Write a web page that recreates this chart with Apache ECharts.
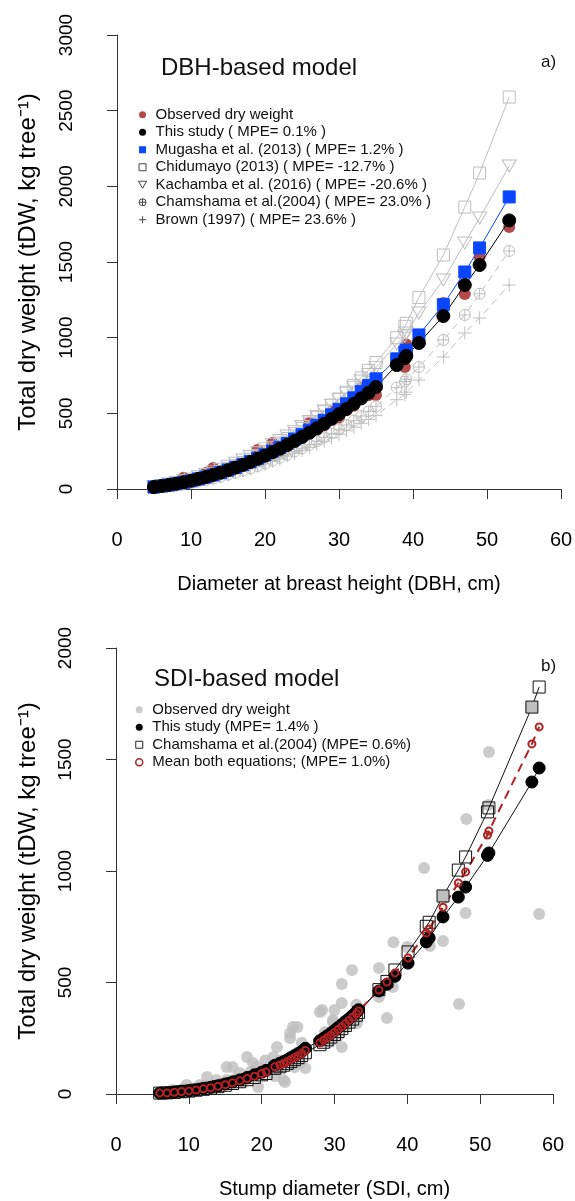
<!DOCTYPE html>
<html>
<head>
<meta charset="utf-8">
<title>Total dry weight models</title>
<script src="https://cdn.jsdelivr.net/npm/echarts@6.0.0/dist/echarts.min.js"></script>
<style>
  html, body { margin: 0; padding: 0; background: #fff; }
  #chart { width: 575px; height: 1201px; }
</style>
</head>
<body>
<div id="chart"></div>
<script>
// ---- panel a: DBH-based model (kg per tree) ----
const dbh = [5, 6, 7, 8, 9, 10, 11, 12, 13, 14, 15, 16, 17, 18, 19, 20, 21, 22, 23, 24, 25, 26, 27, 28, 29, 30, 31, 32, 33, 34, 35,
  37.8, 38.9, 39.1, 40.8, 44.1, 47, 49, 53]
const observedA = [10, 22, 30, 33, 75, 50, 70, 106, 139, 100, 130, 135, 165, 185, 258, 215, 304, 250, 280, 330, 335, 436, 390, 420, 509, 470, 520, 550, 667, 620, 621,
  840, 806, 955, 975, 1229, 1289, 1533, 1731]
const thisStudyA = [13, 20, 27, 35, 45, 55, 67, 79, 93, 108, 124, 141, 159, 178, 199, 220, 243, 266, 291, 317, 344, 372, 401, 431, 463, 495, 529, 563, 599, 636, 674,
  819, 865, 880, 965, 1143, 1348, 1480, 1775]
const mugasha = [13, 19, 26, 34, 44, 54, 66, 79, 93, 108, 125, 142, 161, 181, 203, 226, 250, 275, 301, 330, 359, 389, 421, 454, 490, 526, 563, 602, 643, 684, 728,
  860, 905, 918, 1018, 1218, 1434, 1593, 1930]
const chidumayo = [13, 20, 28, 36, 47, 58, 71, 84, 100, 117, 135, 154, 175, 198, 222, 248, 275, 303, 334, 366, 400, 436, 473, 511, 553, 595, 640, 685, 734, 784, 836,
  1000, 1075, 1095, 1265, 1546, 1863, 2088, 2590]
const kachamba = [16, 24, 33, 43, 55, 67, 81, 96, 113, 131, 150, 170, 192, 215, 240, 265, 293, 320, 350, 381, 413, 446, 480, 516, 554, 592, 632, 672, 714, 757, 802,
  958, 1010, 1031, 1163, 1381, 1625, 1791, 2134]
const chamshamaA = [9, 15, 20, 26, 33, 41, 50, 59, 70, 81, 94, 107, 121, 136, 153, 169, 188, 206, 226, 248, 269, 292, 316, 341, 368, 395, 423, 452, 482, 513, 546,
  670, 710, 725, 806, 985, 1150, 1290, 1573]
const brown = [10, 16, 21, 27, 35, 42, 51, 61, 71, 82, 94, 107, 120, 134, 150, 165, 182, 198, 217, 235, 255, 275, 295, 316, 339, 361, 385, 409, 434, 459, 485,
  590, 625, 640, 720, 872, 1031, 1130, 1348]

// ---- panel b: SDI-based model ----
const sdi = [6, 7, 8, 9, 10, 11, 12, 13, 14, 15, 16, 17, 18, 19, 20, 20.6,
  21.8, 22.5, 23, 23.5, 24, 24.5, 25, 25.5, 26,
  28, 28.5, 29, 29.5, 30, 30.5, 31, 31.5, 32, 32.5, 33, 33.3,
  36.1, 37.2, 38.3, 40.1, 42.6, 43, 44.9, 47, 48, 51, 51.2, 57.1, 58.1]
const thisStudyB = [4, 5, 9, 12, 15, 19, 25, 30, 37, 45, 54, 63, 74, 86, 98, 106,
  129, 138, 145, 153, 163, 172, 181, 191, 205,
  239, 250, 261, 273, 285, 298, 311, 325, 338, 352, 367, 378,
  462, 492, 528, 587, 682, 700, 794, 883, 928, 1070, 1081, 1399, 1462]
const chamshamaB = [4, 5, 7, 10, 13, 17, 21, 26, 33, 39, 47, 55, 64, 74, 86, 92,
  115, 122, 129, 137, 145, 154, 163, 173, 185,
  221, 232, 243, 255, 267, 280, 293, 307, 322, 336, 353, 366,
  468, 505, 556, 637, 752, 770, 888, 1004, 1063, 1265, 1283, 1735, 1825]
const meanBoth = [4, 5, 8, 11, 14, 18, 23, 28, 35, 42, 50, 59, 69, 80, 92, 99,
  122, 130, 137, 145, 154, 163, 172, 182, 195,
  230, 241, 252, 264, 276, 289, 302, 316, 330, 344, 360, 372,
  466, 502, 543, 610, 722, 740, 838, 946, 996, 1161, 1179, 1570, 1646]
const obsSdi = [6, 6.5, 7, 7.8, 8.5, 9, 9.7, 10.5, 11, 11.5, 12, 12.5, 13, 13.8, 14.5, 15.2, 15.2, 16, 16.5, 17, 17.5, 18, 18.5, 18.8, 19.3, 19.5, 20.2, 20.5,
  21.6, 21.8, 22.1, 22.1, 22.5, 23, 23.2, 23.9, 23.9, 24.3, 24.5, 24.9, 24.9, 25.3, 26, 25.5,
  28, 28.3, 28.7, 29.4, 29.8, 29.8, 30, 30.5, 31, 31, 31, 31.5, 32.4, 32.5, 33.1, 33,
  36.1, 36.1, 37.2, 38, 38.1, 40, 42.3, 43.1, 44.9, 47.1, 48, 48.1, 51.1, 51.2, 58.1]
const obsTdwB = [4, 6, 8, 18, 12, 20, 40, 25, 15, 40, 35, 76, 30, 63, 45, 63, 121, 121, 70, 94, 55, 166, 100, 139, 121, 31, 94, 150,
  166, 80, 211, 108, 150, 63, 54, 251, 273, 300, 120, 184, 300, 139, 117, 230,
  368, 377, 278, 233, 323, 332, 377, 260, 408, 211, 493, 300, 556, 330, 318, 400,
  565, 435, 341, 480, 681, 659, 1013, 664, 686, 404, 812, 1233, 1296, 1534, 807]
const grayFilledSdi = [44.9, 57.1]

const legendA = ['Observed dry weight', 'This study ( MPE= 0.1% )', 'Mugasha et al. (2013) ( MPE= 1.2% )',
  'Chidumayo (2013) ( MPE= -12.7% )', 'Kachamba et al. (2016) ( MPE= -20.6% )',
  'Chamshama et al.(2004) ( MPE= 23.0% )', 'Brown (1997) ( MPE= 23.6% )']
const legendB = ['Observed dry weight', 'This study (MPE= 1.4% )', 'Chamshama et al.(2004) (MPE= 0.6%)',
  'Mean both equations; (MPE= 1.0%)']

const FONT = 'Liberation Sans, Arial, Helvetica, sans-serif'
const GRAY = '#bebebe'
const BROWN = '#a01c1c'
const BLUE = '#0a46ff'
const RED = '#b22222'
const DARK = '#444'
const NONE = 'rgba(0,0,0,0)'
const SQUARE = 'path://M0,0 L10,0 L10,10 L0,10 Z'
const TRI_DOWN = 'path://M0,0 L10,0 L5,8.66 Z'
const CIRC_PLUS = 'path://M10,5 A5,5 0 1 1 0,5 A5,5 0 1 1 10,5 Z M0,5 L10,5 M5,0 L5,10'
const PLUS = 'path://M0,5 L10,5 M5,0 L5,10'

const pair = (xs, ys) => xs.map((x, i) => [x, ys[i]])

const chart = echarts.init(document.getElementById('chart'), null, { renderer: 'canvas' })

const axisCommon = {
  axisLine: { lineStyle: { color: '#333', width: 1 } },
  axisTick: { length: 10, lineStyle: { color: '#333' } },
  splitLine: { show: false },
  nameLocation: 'middle',
  nameMoveOverlap: false
}

const xAxisFor = (gridIndex, name) => ({
  ...axisCommon,
  type: 'value', gridIndex, min: 0, max: 60, interval: 10, offset: 19,
  axisLabel: { fontSize: 20, margin: 22, color: '#000', fontFamily: FONT },
  name, nameGap: 66,
  nameTextStyle: { fontSize: 20, color: '#000', fontFamily: FONT }
})

const yAxisFor = (gridIndex, max, gap) => ({
  ...axisCommon,
  type: 'value', gridIndex, min: 0, max, interval: 500, offset: 17,
  axisLabel: { fontSize: 19, margin: 24, rotate: 90, color: '#000', fontFamily: FONT, formatter: v => String(v) },
  name: 'Total dry weight (tDW, kg tree\u207B\u00B9)', nameGap: gap, nameRotate: 90,
  nameTextStyle: { fontSize: 24, color: '#000', fontFamily: FONT }
})

const legendBase = {
  orient: 'vertical', padding: 0, itemGap: 0, itemWidth: 16, itemHeight: 7,
  selectedMode: false,
  textStyle: { fontSize: 15, color: '#111', lineHeight: 17.5, fontFamily: FONT }
}

const lineSeries = (name, xs, ys, grid, symbol, size, fill, stroke, lineColor, dash, width) => ({
  name, type: 'line', xAxisIndex: grid, yAxisIndex: grid,
  data: pair(xs, ys), symbol, symbolSize: size, showAllSymbol: true,
  itemStyle: { color: fill, borderColor: stroke, borderWidth: 1 },
  lineStyle: { color: lineColor, width: width || 1, type: dash || 'solid' },
  emphasis: { disabled: true }
})

const option = {
  animation: false,
  backgroundColor: '#fff',
  textStyle: { fontFamily: FONT },
  grid: [
    { left: 117, right: 14, top: 35, bottom: 712, outerBoundsMode: 'none' },
    { left: 116, right: 22, top: 648, bottom: 107, outerBoundsMode: 'none' }
  ],
  title: [
    { text: 'DBH-based model', left: 161, top: 56, padding: 0, textStyle: { fontSize: 24, fontWeight: 'normal', color: '#111', fontFamily: FONT } },
    { text: 'a)', left: 541, top: 54, padding: 0, textStyle: { fontSize: 17, fontWeight: 'normal', color: '#111', fontFamily: FONT } },
    { text: 'SDI-based model', left: 154, top: 667, padding: 0, textStyle: { fontSize: 24, fontWeight: 'normal', color: '#111', fontFamily: FONT } },
    { text: 'b)', left: 541, top: 658, padding: 0, textStyle: { fontSize: 17, fontWeight: 'normal', color: '#111', fontFamily: FONT } }
  ],
  legend: [
    {
      ...legendBase, left: 138, top: 106,
      data: [
        { name: legendA[0], icon: 'circle', itemStyle: { color: BROWN, borderWidth: 0 } },
        { name: legendA[1], icon: 'circle', itemStyle: { color: '#000', borderWidth: 0 } },
        { name: legendA[2], icon: SQUARE, itemStyle: { color: BLUE, borderWidth: 0 } },
        { name: legendA[3], icon: SQUARE, itemStyle: { color: NONE, borderColor: DARK, borderWidth: 1 } },
        { name: legendA[4], icon: TRI_DOWN, itemStyle: { color: NONE, borderColor: DARK, borderWidth: 1 } },
        { name: legendA[5], icon: CIRC_PLUS, itemStyle: { color: NONE, borderColor: DARK, borderWidth: 1 } },
        { name: legendA[6], icon: PLUS, itemStyle: { color: NONE, borderColor: DARK, borderWidth: 1 } }
      ]
    },
    {
      ...legendBase, left: 135, top: 701,
      data: [
        { name: legendB[0], icon: 'circle', itemStyle: { color: GRAY, borderWidth: 0 } },
        { name: legendB[1], icon: 'circle', itemStyle: { color: '#000', borderWidth: 0 } },
        { name: legendB[2], icon: SQUARE, itemStyle: { color: NONE, borderColor: '#222', borderWidth: 1 } },
        { name: legendB[3], icon: 'circle', itemStyle: { color: NONE, borderColor: RED, borderWidth: 1.5 } }
      ]
    }
  ],
  xAxis: [
    xAxisFor(0, 'Diameter at breast height (DBH, cm)'),
    xAxisFor(1, 'Stump diameter (SDI, cm)')
  ],
  yAxis: [
    yAxisFor(0, 3000, 60),
    yAxisFor(1, 2000, 59)
  ],
  series: [
    // panel a, grey competitors first so they sit underneath
    lineSeries(legendA[3], dbh, chidumayo, 0, SQUARE, 12, NONE, GRAY, GRAY),
    lineSeries(legendA[4], dbh, kachamba, 0, TRI_DOWN, [14, 12], NONE, GRAY, GRAY),
    lineSeries(legendA[5], dbh, chamshamaA, 0, CIRC_PLUS, 11, NONE, GRAY, GRAY, [7, 5]),
    lineSeries(legendA[6], dbh, brown, 0, PLUS, 13, NONE, GRAY, GRAY, [7, 5]),
    {
      name: legendA[0], type: 'scatter', xAxisIndex: 0, yAxisIndex: 0,
      data: pair(dbh, observedA), symbol: 'circle', symbolSize: 12,
      itemStyle: { color: BROWN }, emphasis: { disabled: true }
    },
    lineSeries(legendA[2], dbh, mugasha, 0, SQUARE, 12, BLUE, BLUE, BLUE),
    lineSeries(legendA[1], dbh, thisStudyA, 0, 'circle', 13, '#000', '#000', '#000'),

    // panel b
    {
      name: legendB[0], type: 'scatter', xAxisIndex: 1, yAxisIndex: 1,
      data: pair(obsSdi, obsTdwB), symbol: 'circle', symbolSize: 12,
      itemStyle: { color: GRAY }, emphasis: { disabled: true }
    },
    {
      ...lineSeries(legendB[2], sdi, chamshamaB, 1, SQUARE, 12, NONE, '#111', '#111'),
      data: sdi.map((x, i) => grayFilledSdi.includes(x)
        ? { value: [x, chamshamaB[i]], itemStyle: { color: GRAY } }
        : [x, chamshamaB[i]])
    },
    lineSeries(legendB[1], sdi, thisStudyB, 1, 'circle', 12, '#000', '#000', '#111'),
    {
      ...lineSeries(legendB[3], sdi, meanBoth, 1, 'circle', 7, NONE, RED, RED, [9, 6], 2),
      itemStyle: { color: NONE, borderColor: RED, borderWidth: 2 }
    }
  ]
}

chart.setOption(option)
window.addEventListener('resize', () => chart.resize())
</script>
</body>
</html>
